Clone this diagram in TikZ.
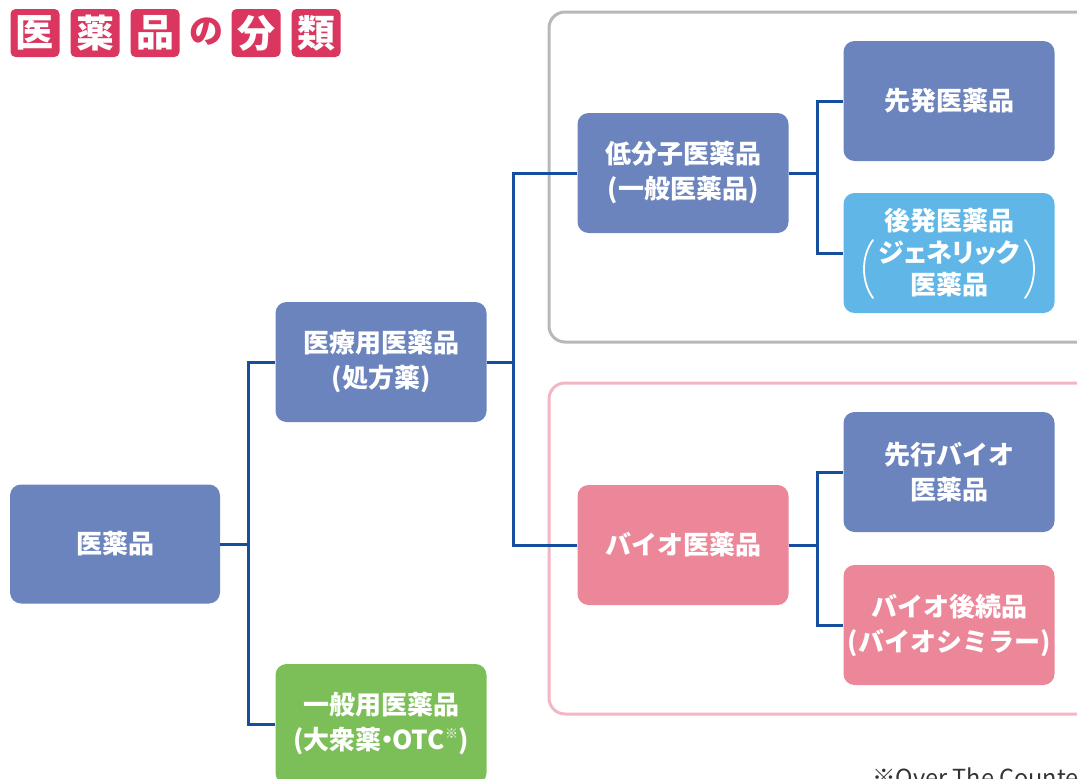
\documentclass[tikz,border=0pt]{standalone}
\usepackage{fontspec}
\newfontfamily\jp{Noto Sans CJK JP}
\newfontfamily\jpp{Noto Sans CJK JP}[RawFeature=+palt]
\definecolor{cblue}{HTML}{6C84BD}
\definecolor{clblue}{HTML}{5FB6E7}
\definecolor{cpink}{HTML}{EC8699}
\definecolor{cgreen}{HTML}{7CBF58}
\definecolor{cred}{HTML}{DA365F}
\definecolor{cline}{HTML}{154E9C}
\definecolor{cgray}{HTML}{B8B8B8}
\definecolor{cpinkline}{HTML}{F4B6C2}
\tikzset{
  box/.style={rounded corners=11pt, minimum width=211pt, minimum height=120pt, text=white,
    font=\jp\bfseries\fontsize{26}{35}\selectfont, align=center, inner sep=0pt},
  bbox/.style={box, fill=cblue},
  lbbox/.style={box, fill=clblue},
  pbox/.style={box, fill=cpink},
  gbox/.style={box, fill=cgreen},
  conn/.style={draw=cline, line width=3pt},
  frame/.style={rounded corners=16pt, line width=3pt},
  tbox/.style={fill=cred, rounded corners=5pt, minimum width=49pt, minimum height=48pt, inner sep=0pt,
    text=white, font=\jp\bfseries\fontsize{38}{38}\selectfont},
}
\begin{document}
\begin{tikzpicture}[x=1pt,y=-1pt]
\useasboundingbox (0,0) rectangle (1077,779);
% title
\node[tbox] (t1) at (35,33) {医};
\node[tbox] (t2) at (95,33) {薬};
\node[tbox] (t3) at (155,33) {品};
\node[font=\jp\bfseries\fontsize{34}{34}\selectfont, text=cred] (t4) at (206,32) {の};
\node[tbox] (t5) at (256,33) {分};
\node[tbox] (t6) at (316,33) {類};
% frames
\draw[frame, draw=cgray] (549,12) rectangle (1100,342);
\draw[frame, draw=cpinkline] (549,383) rectangle (1100,714);
% nodes
\node[bbox, minimum width=210pt, minimum height=119pt] (yak) at (115,544) {医薬品};
\node[bbox] (iry) at (381,362) {医療用医薬品\\(処方薬)};
\node[gbox] (ipp) at (381,724) {一般用医薬品\\(大衆薬{\kern-0.3em}・{\kern-0.3em}OTC{\raisebox{0.45em}{\fontsize{13}{13}\selectfont ※}})};
\node[bbox] (tei) at (683,173) {低分子医薬品\\(一般医薬品)};
\node[pbox] (bio) at (683,545) {バイオ医薬品};
\node[bbox] (sen) at (949,101) {先発医薬品};
\node[lbbox, font=\jp\bfseries\fontsize{26}{32}\selectfont] (kou) at (949,253) {後発医薬品\\{\jpp\bfseries ジェネリック}\\医薬品};
\node[bbox] (sbi) at (949,472) {先行バイオ\\医薬品};
\node[pbox] (bsi) at (949,625) {バイオ後続品\\(バイオシミラー)};
% parentheses in generic box
\draw[white, line width=1.8pt, line cap=round] (873,240) .. controls (861,256) and (861,282) .. (873,298);
\draw[white, line width=1.8pt, line cap=round] (1025,240) .. controls (1037,256) and (1037,282) .. (1025,298);
% connectors
\draw[conn] (yak.east) -- ++(28,0) |- (iry.west);
\draw[conn] (yak.east) -- ++(28,0) |- (ipp.west);
\draw[conn] (iry.east) -- ++(27,0) |- (tei.west);
\draw[conn] (iry.east) -- ++(27,0) |- (bio.west);
\draw[conn] (tei.east) -- ++(29,0) |- (sen.west);
\draw[conn] (tei.east) -- ++(29,0) |- (kou.west);
\draw[conn] (bio.east) -- ++(29,0) |- (sbi.west);
\draw[conn] (bio.east) -- ++(29,0) |- (bsi.west);
% footnote
\node[anchor=west, inner sep=0pt, text=black!80, font=\jp\fontsize{23.5}{23.5}\selectfont] (fn) at (872,777) {※Over The Counter};
\end{tikzpicture}
\end{document}
